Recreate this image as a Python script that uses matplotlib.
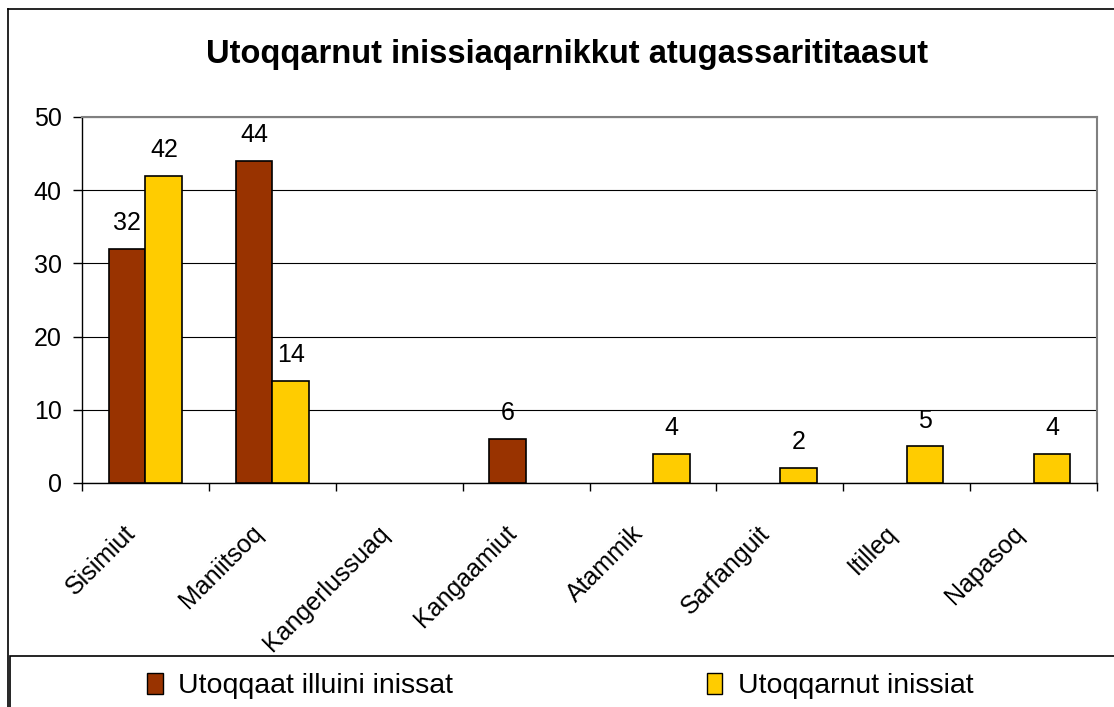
import numpy as np
import matplotlib
matplotlib.use("Agg")
import matplotlib.pyplot as plt
from matplotlib.patches import Rectangle, Patch
from matplotlib.transforms import ScaledTranslation

plt.rcParams['font.family'] = ['Liberation Sans', 'DejaVu Sans']

categories = ["Sisimiut", "Maniitsoq", "Kangerlussuaq", "Kangaamiut",
              "Atammik", "Sarfanguit", "Itilleq", "Napasoq"]
illuini = [32, 44, 0, 6, 0, 0, 0, 0]
inissiat = [42, 14, 0, 0, 4, 2, 5, 4]
series_names = ["Utoqqaat illuini inissat", "Utoqqarnut inissiat"]
title = "Utoqqarnut inissiaqarnikkut atugassarititaasut"

BROWN = "#993300"
YELLOW = "#FFCC00"

fig = plt.figure(figsize=(11.14, 7.07), dpi=100)
W, H = 1114, 707
ax = fig.add_axes([82 / W, 1 - 483 / H, (1097 - 82) / W, (483 - 117) / H])

x = np.arange(len(categories))
bw = 0.29
for offs, vals, col in ((-bw / 2, illuini, BROWN), (bw / 2, inissiat, YELLOW)):
    lw = [1.2 if v > 0 else 0 for v in vals]
    bars = ax.bar(x + offs, vals, bw, color=col, edgecolor="black", linewidth=lw, zorder=3)
    for r, v in zip(bars, vals):
        if v > 0:
            ax.annotate(str(v), (r.get_x() + r.get_width() / 2, v),
                        xytext=(0, 10), textcoords="offset points",
                        ha="center", va="bottom", fontsize=18)

ax.set_xlim(-0.5, len(categories) - 0.5)
ax.set_ylim(0, 50)
ax.set_yticks(range(0, 51, 10))
ax.yaxis.grid(True, color="black", linewidth=0.8, zorder=0)
ax.tick_params(axis="y", labelsize=18, length=6.5, direction="out", width=1, pad=8)

# category ticks between groups, labels at centres
ax.set_xticks(np.arange(-0.5, len(categories), 1.0))
ax.set_xticklabels([])
ax.set_xticks(x, minor=True)
ax.set_xticklabels(categories, minor=True, rotation=45, ha="right", va="top",
                   rotation_mode="anchor", fontsize=18)
ax.tick_params(axis="x", which="major", length=6, width=1)
ax.tick_params(axis="x", which="minor", length=0, pad=0)
shift = ScaledTranslation(-22 / 100, -38 / 100, fig.dpi_scale_trans)
for lab in ax.get_xticklabels(minor=True):
    lab.set_transform(lab.get_transform() + shift)

for s in ("top", "right"):
    ax.spines[s].set_color("#808080")
    ax.spines[s].set_linewidth(1.5)
for s in ("left", "bottom"):
    ax.spines[s].set_color("black")
    ax.spines[s].set_linewidth(1)

fig.text(567 / W, 1 - 55 / H, title, ha="center", va="center",
         fontsize=23.5, fontweight="bold")

# outer chart border (top/left visible)
fig.add_artist(plt.Line2D([8 / W, 1], [1 - 9 / H, 1 - 9 / H], color="black", linewidth=1.2))
fig.add_artist(plt.Line2D([8 / W, 8 / W], [0, 1 - 9 / H], color="black", linewidth=1.2))

# legend box
fig.add_artist(Rectangle((10 / W, -0.01), 1.0, (707 - 656) / H + 0.01,
                         transform=fig.transFigure, facecolor="white",
                         edgecolor="black", linewidth=1.2))
handles = [Patch(facecolor=BROWN, edgecolor="black"),
           Patch(facecolor=YELLOW, edgecolor="black")]
fig.legend(handles, series_names, loc="center left", ncol=2,
           bbox_to_anchor=(147 / W, 1 - 686 / H), frameon=False,
           fontsize=20.5, handlelength=0.55, handleheight=0.8,
           handletextpad=0.55, columnspacing=8.9,
           borderpad=0, borderaxespad=0)

fig.savefig("out.png", dpi=100)
